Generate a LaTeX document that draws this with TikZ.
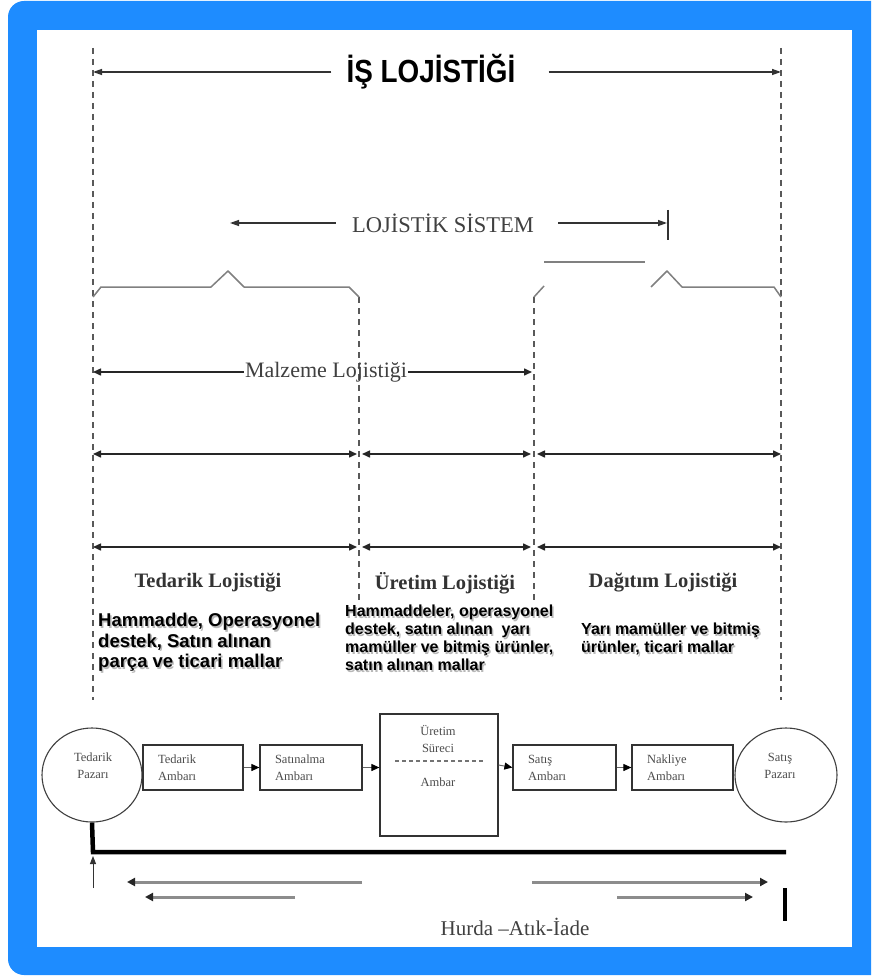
\documentclass[tikz,border=0pt]{standalone}
\usepackage{fontspec}
\setmainfont{Liberation Serif}
\newfontfamily\arialfont{Liberation Sans}
\newfontfamily\narrowfont[FakeStretch=0.87]{Liberation Sans}
\usetikzlibrary{arrows.meta,shapes.geometric}
\definecolor{frameblue}{RGB}{30,140,255}
\tikzset{
  dashv/.style={draw=black!65, line width=1.3pt, dash pattern=on 6pt off 5pt},
  bracel/.style={draw=black!50, line width=1.5pt, line join=round},
  tipa/.tip={Triangle[length=8pt,width=7pt]},
  dimarrow/.style={draw=black!85, line width=1.5pt, tipa-tipa},
  larrow/.style={draw=black!80, line width=1.3pt, -{Triangle[length=9pt,width=6pt]}},
  titletext/.style={inner sep=0pt, font=\narrowfont\bfseries\fontsize{32}{34}\selectfont},
  systext/.style={inner sep=0pt, text=black!75, font=\fontsize{22.5}{24}\selectfont},
  maltext/.style={inner sep=1pt, text=black!75, font=\fontsize{22}{24}\selectfont},
  headtext/.style={inner sep=0pt, text=black!80, font=\bfseries\fontsize{20.5}{22}\selectfont},
  descA/.style={inner sep=0pt, anchor=north west, align=left, font=\arialfont\bfseries\fontsize{18.5}{20.5}\selectfont},
  descB/.style={inner sep=0pt, anchor=north west, align=left, font=\arialfont\bfseries\fontsize{16}{18}\selectfont},
  shadowed/.style={text=black!28},
  flowbox/.style={draw=black!80, line width=1.2pt, rectangle, minimum height=45pt,
    inner xsep=15pt, align=left, text=black!70, font=\fontsize{12.5}{17}\selectfont},
  market/.style={draw=black!75, line width=1.1pt, ellipse, minimum height=94pt},
  smalltext/.style={inner sep=0pt, align=center, text=black!70, font=\fontsize{12.5}{17}\selectfont},
  flowarrow/.style={draw=black!60, line width=1pt, -{Triangle[length=8pt,width=7pt,color=black]}},
  returnarrow/.style={draw=black!45, line width=3pt, -{Triangle[length=8pt,width=8pt,color=black!85]}},
}
\begin{document}
\begin{tikzpicture}[x=1pt,y=-1pt]
\useasboundingbox (0,0) rectangle (871,976);
\begin{scope}
  \clip (0,0) rectangle (871,976);
  \fill[frameblue, rounded corners=16pt] (8,1) rectangle (900,975);
\end{scope}
\fill[white] (37,30) rectangle (852,947);

% dashed verticals
\coordinate (L0) at (93,48);  \coordinate (L1) at (93,700);
\coordinate (R0) at (781,48); \coordinate (R1) at (781,700);
\coordinate (M0) at (359,297); \coordinate (M1) at (359,600);
\coordinate (N0) at (534,297); \coordinate (N1) at (534,600);
\draw[dashv] (L0) -- (L1);
\draw[dashv] (R0) -- (R1);
\draw[dashv] (M0) -- (M1);
\draw[dashv] (N0) -- (N1);

% title
\node[titletext] (title) at (431,72) {İŞ LOJİSTİĞİ};
\coordinate (isL) at (93,72); \coordinate (isR) at (781,72);
\draw[larrow, shorten <=15pt] (title.west) -- (isL);
\draw[larrow, shorten <=33pt] (title.east) -- (isR);

% logistics system
\node[systext] (sys) at (443,223) {LOJİSTİK SİSTEM};
\coordinate (sysL) at (230,223); \coordinate (sysR) at (667,223);
\coordinate (sysT1) at (668,210); \coordinate (sysT2) at (668,240);
\draw[larrow, shorten <=16pt] (sys.west) -- (sysL);
\draw[larrow, shorten <=24pt] (sys.east) -- (sysR);
\draw[black!80, line width=1.6pt] (sysT1) -- (sysT2);

% braces
\draw[bracel] (93,297) -- (101,287) -- (211,287) -- (228,271) -- (244,287) -- (349,287) -- (359,297);
\draw[bracel] (534,297) -- (544,286);
\draw[bracel] (544,262) -- (645,262);
\draw[bracel] (651,287) -- (667,271) -- (682,287) -- (774,287) -- (781,297);

% material logistics
\node[maltext] (mal) at (326,372) {Malzeme Lojistiği};
\coordinate (malL) at (93,372); \coordinate (malR) at (532,372);
\draw[draw=black!85, line width=1.5pt, -tipa] (mal.west) -- (malL);
\draw[draw=black!85, line width=1.5pt, -tipa] (mal.east) -- (malR);

% dimension rows
\foreach \y/\n in {454/a, 547/b} {
  \coordinate (\n1) at (93,\y);  \coordinate (\n2) at (357,\y);
  \coordinate (\n3) at (362,\y); \coordinate (\n4) at (531,\y);
  \coordinate (\n5) at (537,\y); \coordinate (\n6) at (781,\y);
  \draw[dimarrow] (\n1) -- (\n2);
  \draw[dimarrow] (\n3) -- (\n4);
  \draw[dimarrow] (\n5) -- (\n6);
}

% headers
\node[headtext] (h1) at (208,583) {Tedarik Lojistiği};
\node[headtext] (h2) at (445,583) {Üretim Lojistiği};
\node[headtext] (h3) at (663,583) {Dağıtım Lojistiği};

% descriptions
\node[descA, shadowed] (d1s) at (99.5,614.5) {Hammadde, Operasyonel\\destek, Satın alınan\\parça ve ticari mallar};
\node[descA] (d1) at (98,613) {Hammadde, Operasyonel\\destek, Satın alınan\\parça ve ticari mallar};
\node[descB, shadowed] (d2s) at (346.5,606.5) {Hammaddeler, operasyonel\\destek, satın alınan\ \ yarı\\mamüller ve bitmiş ürünler,\\satın alınan mallar};
\node[descB] (d2) at (345,605) {Hammaddeler, operasyonel\\destek, satın alınan\ \ yarı\\mamüller ve bitmiş ürünler,\\satın alınan mallar};
\node[descB, shadowed] (d3s) at (582.5,624.5) {Yarı mamüller ve bitmiş\\ürünler, ticari mallar};
\node[descB] (d3) at (581,623) {Yarı mamüller ve bitmiş\\ürünler, ticari mallar};

% flow
\node[market, minimum width=100pt] (tp) at (92,775) {};
\node[smalltext] (tpt) at (93,766) {Tedarik\\Pazarı};
\node[flowbox, minimum width=100pt, text width=70pt] (ta) at (193,767.5) {Tedarik\\Ambarı};
\node[flowbox, minimum width=102pt, text width=72pt] (sa) at (311,767.5) {Satınalma\\Ambarı};
\node[draw=black!80, line width=1.2pt, rectangle, minimum width=118pt, minimum height=122pt] (ur) at (439,775) {};
\node[smalltext] (urt) at (438,738.5) {Üretim\\Süreci};
\node[smalltext] (ura) at (438,782) {Ambar};
\coordinate (urd1) at (395,761); \coordinate (urd2) at (483,761);
\draw[black!55, line width=1.1pt, dash pattern=on 4pt off 3pt] (urd1) -- (urd2);
\node[flowbox, minimum width=103pt, text width=73pt] (sat) at (564.5,767.5) {Satış\\Ambarı};
\node[flowbox, minimum width=101pt, text width=71pt] (nak) at (682.5,767.5) {Nakliye\\Ambarı};
\node[market, minimum width=102pt] (sp) at (786,775) {};
\node[smalltext] (spt) at (780,765.5) {Satış\\Pazarı};

\draw[flowarrow] (ta.east) -- (sa.west);
\draw[flowarrow] (sa.east) -- (sa.east -| ur.west);
\draw[flowarrow] (ur.west -| ur.east) ++(0,-10) -- (sat.west);
\draw[flowarrow] (sat.east) -- (nak.west);

% return flow
\coordinate (bc) at (93,852); \coordinate (be) at (786,852);
\draw[black, line width=4.5pt] (tp.south) -- (bc) -- (be);
\coordinate (upA) at (93,888); \coordinate (upB) at (93,856);
\draw[black!80, line width=1pt, -{Triangle[length=8pt,width=6pt]}] (upA) -- (upB);

\coordinate (ra1) at (362,882); \coordinate (ra2) at (127,882);
\coordinate (rb1) at (295,897); \coordinate (rb2) at (145,897);
\coordinate (rc1) at (532,882); \coordinate (rc2) at (768,882);
\coordinate (rd1) at (617,897); \coordinate (rd2) at (753,897);
\draw[returnarrow] (ra1) -- (ra2);
\draw[returnarrow] (rb1) -- (rb2);
\draw[returnarrow] (rc1) -- (rc2);
\draw[returnarrow] (rd1) -- (rd2);
\coordinate (vb1) at (785,888); \coordinate (vb2) at (785,921);
\draw[black, line width=3.5pt] (vb1) -- (vb2);

\node[inner sep=0pt, text=black!75, font=\fontsize{21}{23}\selectfont] (hurda) at (515,927) {Hurda –Atık-İade};
\end{tikzpicture}
\end{document}
